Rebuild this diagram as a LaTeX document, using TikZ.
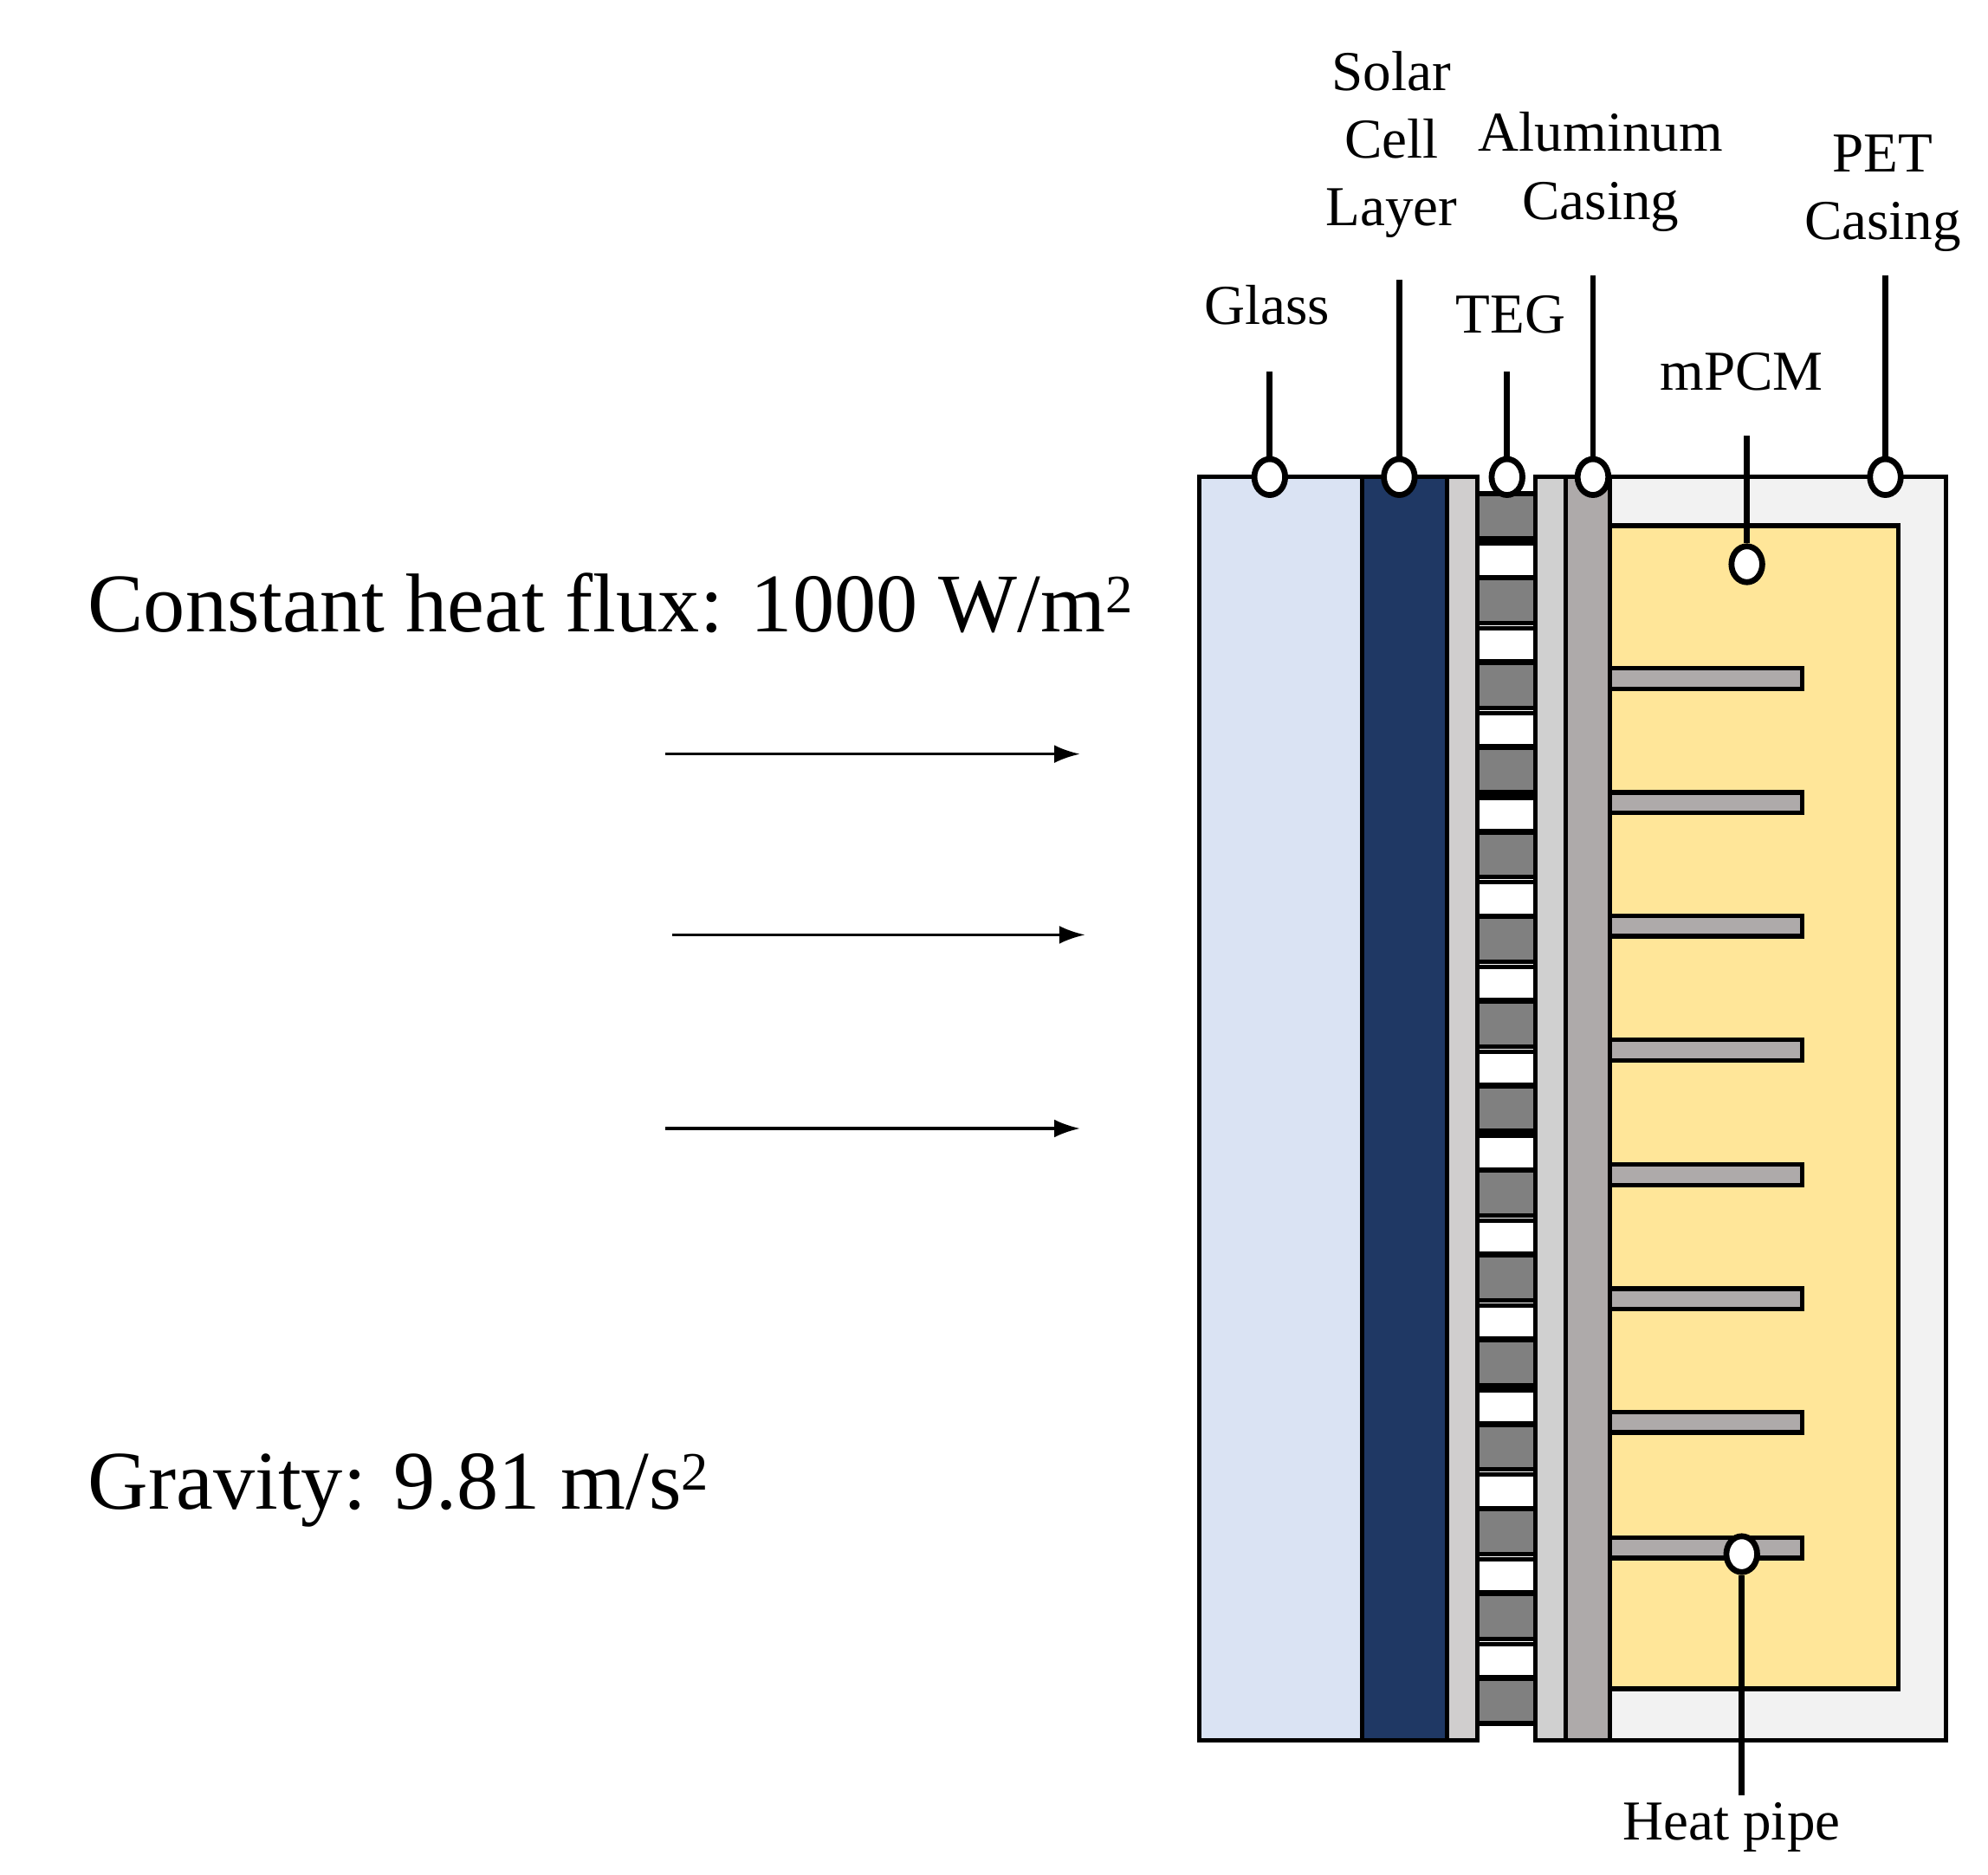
\documentclass[tikz,border=0pt]{standalone}
\usepackage{fontspec}
\setmainfont{Liberation Serif}
\usetikzlibrary{arrows.meta,shapes.geometric}
\definecolor{glassc}{HTML}{DAE3F3}
\definecolor{solarc}{HTML}{1F3864}
\definecolor{stripc}{HTML}{D0CECE}
\definecolor{tegc}{HTML}{808080}
\definecolor{allc}{HTML}{D0D0D0}
\definecolor{aldc}{HTML}{AEAAAA}
\definecolor{petc}{HTML}{F2F2F2}
\definecolor{pcmc}{HTML}{FFE699}
\newcommand{\mysq}{\raisebox{0.5ex}{\fontsize{12}{12}\selectfont 2}}
\tikzset{
  layer/.style={draw=black,line width=1pt},
  pin/.style={draw=black,fill=white,line width=1.3pt,ellipse,minimum width=0.24cm,minimum height=0.28cm,inner sep=0pt},
  lbl/.style={font=\fontsize{12.5}{15}\selectfont,align=center,inner sep=1pt},
  lead/.style={line width=1.3pt},
  big/.style={font=\fontsize{18.5}{22}\selectfont,anchor=west,inner sep=0pt},
  flux/.style={-{Latex[length=0.2cm,width=0.14cm]},line width=0.6pt}
}
\begin{document}
\begin{tikzpicture}[x=0.01cm,y=-0.01cm]
\useasboundingbox[fill=white] (0,0) rectangle (1550,1462);
% layers
\draw[layer,fill=petc] (1197,372) rectangle (1517,1357);
\draw[layer,fill=glassc] (935,372) rectangle (1062,1357);
\draw[layer,fill=solarc] (1062,372) rectangle (1128,1357);
\draw[layer,fill=stripc] (1128,372) rectangle (1152,1357);
\draw[layer,fill=allc] (1197,372) rectangle (1221,1357);
\draw[layer,fill=aldc] (1221,372) rectangle (1255,1357);
\draw[layer,fill=pcmc] (1255,410) rectangle (1480,1317);
% TEG
\foreach \i in {0,...,14} {
  \draw[layer,fill=tegc] (1152,{385+66*\i}) rectangle (1197,{420+66*\i});
}
\foreach \i in {0,...,13} {
  \draw[layer,fill=white] (1152,{424+66*\i}) rectangle (1197,{450+66*\i});
}
% fins
\foreach \y in {529,626,722,819,916,1013,1109,1207} {
  \draw[layer,fill=aldc] (1255,\y-8) rectangle (1405,\y+8);
}
% labels
\node[lbl] (tglass) at (988,238) {Glass};
\node[lbl] (tsolar) at (1085,113) {Solar\\Cell\\Layer};
\node[lbl] (tteg) at (1178,245) {TEG};
\node[lbl] (tal) at (1248,134) {Aluminum\\Casing};
\node[lbl] (tpet) at (1468,151) {PET\\Casing};
\node[lbl] (tpcm) at (1358,290) {mPCM};
\node[lbl] (theat) at (1350,1425) {Heat pipe};
% pins
\node[pin] (pglass) at (990,372) {};
\node[pin] (psolar) at (1091,372) {};
\node[pin] (pteg) at (1175,372) {};
\node[pin] (pal) at (1242,372) {};
\node[pin] (ppet) at (1470,372) {};
\node[pin] (ppcm) at (1362,440) {};
\node[pin] (pheat) at (1358,1212) {};
\coordinate (cglass) at (990,290);
\coordinate (csolar) at (1091,218);
\coordinate (cteg) at (1175,290);
\coordinate (cal) at (1242,215);
\coordinate (cpet) at (1470,215);
\coordinate (cpcm) at (1362,340);
\coordinate (cheat) at (1358,1400);
\draw[lead] (cglass) -- (pglass);
\draw[lead] (csolar) -- (psolar);
\draw[lead] (cteg) -- (pteg);
\draw[lead] (cal) -- (pal);
\draw[lead] (cpet) -- (ppet);
\draw[lead] (cpcm) -- (ppcm);
\draw[lead] (cheat) -- (pheat);
% left texts
\node[big] (flux) at (68,470) {Constant heat flux: 1000 W/m\mysq};
\node[big] (grav) at (68,1162) {Gravity: 9.81 m/s\mysq};
\coordinate (a1) at (519,588); \coordinate (b1) at (842,588);
\coordinate (a2) at (524,729); \coordinate (b2) at (846,729);
\coordinate (a3) at (519,880); \coordinate (b3) at (842,880);
\draw[flux] (a1) -- (b1);
\draw[flux] (a2) -- (b2);
\draw[flux] (a3) -- (b3);
\end{tikzpicture}
\end{document}
